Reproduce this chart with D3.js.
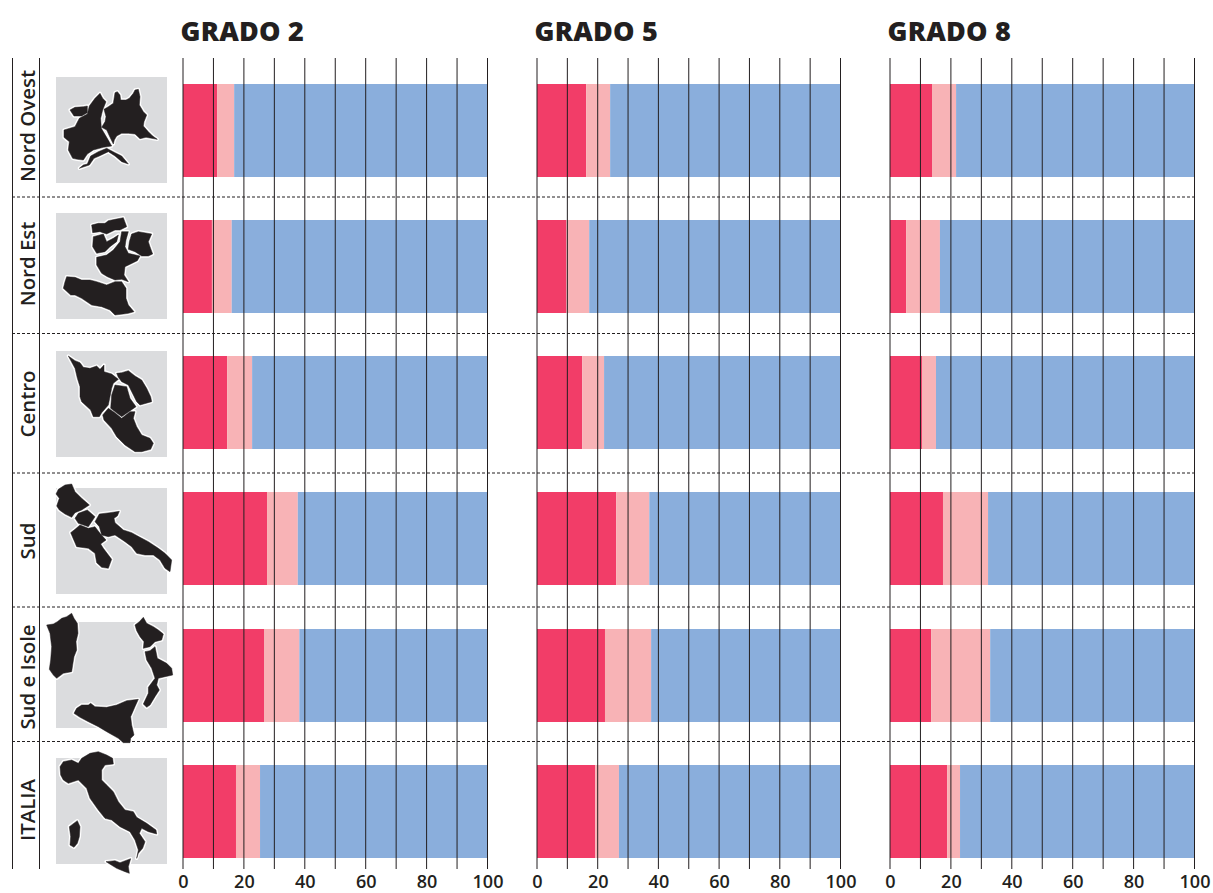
<!DOCTYPE html>
<html><head><meta charset="utf-8">
<script src="https://cdn.jsdelivr.net/npm/d3@7"></script>
<style>html,body{margin:0;background:#fff}svg{display:block}text{font-family:"Open Sans",sans-serif;fill:#231f20}</style>
</head><body><div id="c"></div>
<script>
const regions = ["Nord Ovest","Nord Est","Centro","Sud","Sud e Isole","ITALIA"];
const grades = ["GRADO 2","GRADO 5","GRADO 8"];
const tickLabels = [0,20,40,60,80,100];
const gridValues = [0,10,20,30,40,50,60,70,80,90,100];
// share of students per level: red, pink (remainder is blue)
const redG2  = [11.2, 9.5,14.5,27.6,26.6,17.4];
const pinkG2 = [ 5.6, 6.5, 8.2,10.1,11.6, 7.9];
const redG5  = [16.2, 9.7,14.9,26.1,22.4,19.2];
const pinkG5 = [ 7.9, 7.5, 7.2,10.9,15.2, 7.8];
const redG8  = [13.8, 5.3,10.5,17.4,13.5,18.8];
const pinkG8 = [ 7.9,11.1, 4.6,14.8,19.4, 4.2];
const redAll = [redG2,redG5,redG8], pinkAll = [pinkG2,pinkG5,pinkG8];

// hand-traced thumbnail outlines (decorative, in 3x units relative to the page region)
const maps = [
 {o:[0,50],p:[
  "345,128 352,125 360,135 362,150 378,150 388,145 400,130 405,120 415,118 420,140 418,165 430,185 440,195 432,215 430,228 445,245 458,258 472,268 450,264 438,262 420,266 405,252 385,250 365,250 350,258 343,270 340,282 330,262 320,240 305,232 315,215 318,200 312,178 325,170 340,160",
  "300,130 308,145 318,155 308,180 302,205 304,235 320,262 335,288 310,292 280,300 262,312 250,330 232,328 218,325 205,300 208,275 192,262 192,240 225,230 238,205 262,192 268,168 285,145",
  "210,180 225,172 250,170 262,168 262,188 245,198 222,198",
  "238,355 250,345 262,342 272,318 295,305 320,295 345,308 365,318 385,342 365,335 345,318 325,305 298,318 282,325 268,345"]},
 {o:[0,50],p:[
  "275,525 295,520 315,520 325,512 345,508 370,503 380,530 360,540 345,540 320,552 300,545 278,548",
  "280,560 310,552 320,575 340,565 355,555 350,575 330,590 315,605 290,610 278,590",
  "395,552 415,545 455,552 445,575 450,590 458,612 445,618 425,618 405,605 385,598 388,575",
  "365,545 385,545 378,570 375,590 385,610 420,618 412,632 392,642 375,650 372,675 385,695 365,688 345,690 322,680 305,670 290,645 290,622 320,615 340,600 360,575",
  "195,695 200,680 225,682 245,690 270,690 290,695 320,705 345,695 365,695 378,715 378,745 385,765 402,785 385,790 370,792 345,795 330,780 305,770 275,765 245,745 225,735 212,735 190,715"]},
 {o:[0,340],p:[
  "205,48 225,62 240,68 250,82 270,85 290,78 300,88 312,75 312,95 335,102 355,118 340,130 335,145 330,170 325,195 305,218 298,230 280,230 272,210 245,185 240,170 240,140 232,115 225,85",
  "350,100 365,98 385,92 405,108 425,120 440,145 452,170 455,185 420,195 410,185 400,165 385,135 365,125 355,112",
  "345,135 380,140 390,175 408,200 365,230 332,205 335,165",
  "325,205 345,218 365,235 390,215 405,215 400,235 410,260 425,285 450,295 460,310 452,328 425,335 405,335 375,315 350,290 335,265 312,240 308,225"]},
 {o:[0,340],p:[
  "175,448 195,435 215,432 225,455 245,475 268,495 245,510 225,518 215,532 195,522 178,510 170,498 178,475 168,462",
  "235,520 262,510 285,530 265,560 235,550 225,535",
  "298,522 330,518 358,514 352,528 342,535 345,548 370,570 395,578 420,592 445,605 475,625 495,640 515,660 510,695 495,685 480,660 460,645 435,645 410,640 395,620 375,605 345,585 325,590 305,585 298,560 285,545",
  "212,578 225,568 240,555 265,565 285,560 300,580 318,600 302,612 310,625 335,658 325,685 305,682 290,668 285,640 265,625 230,620"]},
 {o:[0,610],p:[
  "140,45 160,42 172,35 185,25 200,20 215,10 222,25 232,40 234,70 228,95 230,120 222,140 218,165 215,185 190,190 170,205 160,195 148,178 152,150 155,110 150,70",
  "405,45 418,35 430,22 440,40 460,50 475,60 490,72 485,90 465,95 450,110 430,115 432,95 420,80 410,62",
  "435,125 450,122 465,110 472,145 500,160 515,175 518,195 495,200 475,205 470,225 478,240 465,260 450,285 440,292 430,282 445,250 445,232 465,205 455,175 440,150",
  "222,310 230,295 245,285 265,285 272,280 285,290 320,292 350,285 380,272 415,268 405,290 392,320 395,345 402,375 392,385 390,398 370,398 355,385 320,365 295,350 265,335 240,322"]},
 {o:[0,610],p:[
  "180,470 190,455 215,450 235,460 245,445 270,430 295,425 320,435 338,445 340,462 315,465 305,480 305,510 320,525 340,545 355,575 375,600 400,605 410,622 440,640 468,660 470,672 445,665 425,655 418,670 435,695 428,715 415,730 410,745 415,720 405,690 390,665 360,650 335,630 315,625 295,600 270,565 260,535 235,510 205,520 190,510 182,495",
  "208,650 232,632 240,650 238,680 232,700 222,712 210,705 212,680",
  "318,755 345,752 360,758 392,746 385,770 388,790 375,785 350,775"]}
];

const W=1213,H=893, ink="#231f20";
const colors={red:"#f23d68",pink:"#f8b3b6",blue:"#8aaedc",box:"#dbdcde"};
const panelX=[[183,487.5],[537,840.5],[890,1194.5]];
const barTops=[84,220,356,492,629,765], barH=93;
const sepY=[197,333.5,473,607,741.5];
const boxTops=[77,213,351,488,622,758];
const labelCy=[126,264,404,541,677,810];
const lineTop=58,lineBottom=869;

const svg=d3.select("#c").append("svg").attr("width",W).attr("height",H);

// thumbnails
boxTops.forEach(y=>svg.append("rect").attr("x",56).attr("y",y).attr("width",111).attr("height",106).attr("fill",colors.box));
maps.forEach(m=>{
  const g=svg.append("g").attr("transform",`translate(${m.o[0]},${m.o[1]}) scale(${1/3})`);
  g.selectAll("polygon.s").data(m.p).join("polygon").attr("class","s").attr("points",d=>d).attr("fill","#fff").attr("stroke","#fff").attr("stroke-width",10).attr("stroke-linejoin","round");
  g.selectAll("polygon.f").data(m.p).join("polygon").attr("class","f").attr("points",d=>d).attr("fill",ink).attr("stroke",ink).attr("stroke-width",1.5).attr("stroke-linejoin","round");
});

// panels
grades.forEach((gr,i)=>{
  const x=d3.scaleLinear().domain([0,100]).range(panelX[i]);
  const g=svg.append("g");
  regions.forEach((r,j)=>{
    const a=redAll[i][j], b=a+pinkAll[i][j];
    [[0,a,colors.red],[a,b,colors.pink],[b,100,colors.blue]].forEach(s=>{
      g.append("rect").attr("x",x(s[0])).attr("y",barTops[j]).attr("width",x(s[1])-x(s[0])).attr("height",barH).attr("fill",s[2]);
    });
  });
  g.selectAll("line.grid").data(gridValues).join("line").attr("class","grid")
    .attr("x1",d=>x(d)).attr("x2",d=>x(d)).attr("y1",lineTop).attr("y2",lineBottom).attr("stroke",ink).attr("stroke-width",1);
  const ax=svg.append("g").attr("transform",`translate(0,${lineBottom})`)
    .call(d3.axisBottom(x).tickValues(tickLabels).tickSize(0).tickPadding(6));
  ax.select(".domain").remove();
  ax.selectAll("text").attr("font-size",18).attr("font-weight",600).attr("font-family",'"Open Sans",sans-serif').attr("fill",ink);
  svg.append("text").attr("x",panelX[i][0]-2.5).attr("y",40.5).attr("font-size",27).attr("font-weight",800).attr("letter-spacing",0.2).text(gr);
});

// frame lines and separators
[12.5,39.5].forEach(px=>svg.append("line").attr("x1",px).attr("x2",px).attr("y1",lineTop).attr("y2",lineBottom).attr("stroke",ink).attr("stroke-width",1));
sepY.forEach(y=>svg.append("line").attr("x1",12).attr("x2",1194).attr("y1",y).attr("y2",y).attr("stroke",ink).attr("stroke-width",1).attr("stroke-dasharray","3 2"));

// row labels
regions.forEach((r,j)=>{
  svg.append("text").attr("transform",`translate(35,${labelCy[j]}) rotate(-90)`).attr("text-anchor","middle")
    .attr("font-size",20.4).attr("font-weight",600).text(r);
});
</script></body></html>
